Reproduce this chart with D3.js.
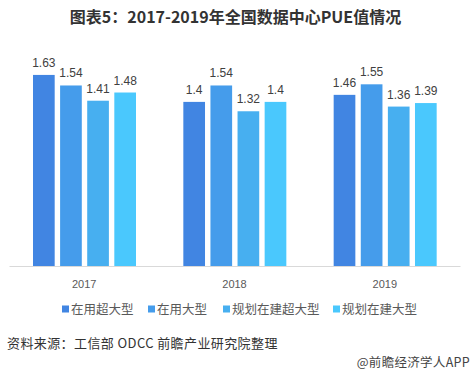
<!DOCTYPE html>
<html><head><meta charset="utf-8">
<script src="https://cdn.jsdelivr.net/npm/d3@7"></script>
<style>
html,body{margin:0;padding:0;background:#fff;}
svg{display:block;font-family:"Noto Sans CJK SC","Noto Sans",sans-serif;}
</style></head>
<body>
<svg id="c" width="471" height="376"></svg>
<script>
const years = ["2017","2018","2019"];
const seriesNames = ["在用超大型","在用大型","规划在建超大型","规划在建大型"];
const s1 = [1.63,1.40,1.46];
const s2 = [1.54,1.54,1.55];
const s3 = [1.41,1.32,1.36];
const s4 = [1.48,1.40,1.39];
const colors = ["#4185E2","#459CEB","#47AFF0","#4AC8FD"];
const titleText = "图表5：2017-2019年全国数据中心PUE值情况";
const sourceText = "资料来源：工信部 ODCC 前瞻产业研究院整理";
const brandText = "@前瞻经济学人APP";

const seriesVals = [s1,s2,s3,s4];
const svg = d3.select("#c");

svg.append("text").attr("x",235.5).attr("y",23).attr("text-anchor","middle")
  .attr("font-size",16).attr("font-weight","bold").attr("fill","#333").text(titleText);

const x0 = d3.scaleBand().domain(years).range([9,460]).padding(0);
const x1 = d3.scaleBand().domain(d3.range(4)).range([24,127]).paddingInner(0.2).paddingOuter(0);
const y = d3.scaleLinear().domain([0,1.8]).range([266,55]);

const g = svg.append("g");
years.forEach((yr,i)=>{
  const gg = g.append("g").attr("transform",`translate(${x0(yr)},0)`);
  seriesVals.forEach((arr,j)=>{
    gg.append("rect").attr("x",x1(j)).attr("width",x1.bandwidth())
      .attr("y",y(arr[i])).attr("height",y(0)-y(arr[i])).attr("fill",colors[j]);
    gg.append("text").attr("x",x1(j)+x1.bandwidth()/2).attr("y",y(arr[i])-8)
      .attr("text-anchor","middle").attr("font-size",12).attr("fill","#404040")
      .attr("font-family","Arial, 'Liberation Sans', sans-serif")
      .text(arr[i]);
  });
});

const xAxis = svg.append("g").attr("transform","translate(0,266)")
  .call(d3.axisBottom(x0).tickSize(0).tickPadding(14));
xAxis.select(".domain").attr("stroke","#d9d9d9").attr("stroke-width",1);
xAxis.selectAll("text").attr("font-size",11).attr("fill","#595959")
  .attr("font-family","Arial, 'Liberation Sans', sans-serif");

// legend
const legX = [62,148,223,333];
const lg = svg.append("g");
seriesNames.forEach((n,j)=>{
  lg.append("rect").attr("x",legX[j]).attr("y",305.5).attr("width",7).attr("height",7).attr("fill",colors[j]);
  lg.append("text").attr("x",legX[j]+9).attr("y",313.5).attr("font-size",12.5).attr("fill","#595959").text(n);
});

svg.append("text").attr("x",7).attr("y",348).attr("font-size",13).attr("letter-spacing",0.4).attr("fill","#333").text(sourceText);
svg.append("text").attr("x",470).attr("y",367).attr("text-anchor","end").attr("font-size",12.5).attr("letter-spacing",0.3).attr("fill","#444").text(brandText);
</script>
</body></html>
